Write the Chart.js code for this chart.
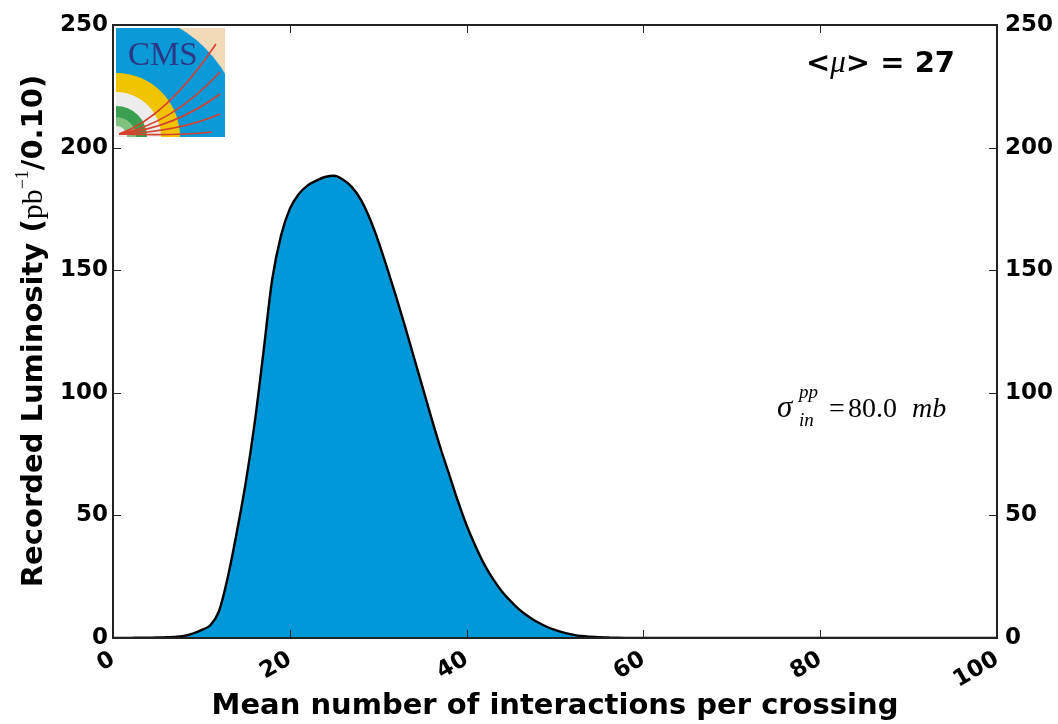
<!DOCTYPE html>
<html>
<head>
<meta charset="utf-8">
<script src="https://cdn.jsdelivr.net/npm/chart.js@4.4.0/dist/chart.umd.min.js"></script>
<style>
  html, body { margin: 0; padding: 0; background: #fff; }
</style>
</head>
<body>
<canvas id="c" width="1058" height="724"></canvas>
<script>
// pileup distribution
const mu = [0, 1, 2, 3, 4, 5, 6, 7, 8, 9, 10, 11, 12, 13, 14, 15, 16, 17, 18, 19,
  20, 21, 22, 23, 24, 25, 26, 27, 28, 29, 30, 31, 32, 33, 34, 35, 36, 37, 38, 39,
  40, 41, 42, 43, 44, 45, 46, 47, 48, 49, 50, 51, 52, 53, 54, 55, 56, 57, 58, 60,
  70, 80, 90, 100];
const lumi = [0, 0, 0.05, 0.1, 0.15, 0.2, 0.3, 0.4, 0.8, 1.8, 3.2, 5.2, 11, 25, 43, 63, 87, 116, 146, 164,
  175, 181, 184.5, 186.5, 188, 188.5, 187, 184, 179, 171.5, 162, 151, 139.5, 127.5, 115, 102.5, 90, 78, 67, 56,
  46, 37.5, 30, 24, 19, 15, 11.5, 8.8, 6.5, 4.7, 3.3, 2.2, 1.4, 0.8, 0.5, 0.3, 0.2, 0.1, 0.05, 0,
  0, 0, 0, 0];
const xTicks = [0, 20, 40, 60, 80, 100];
const yTicks = [0, 50, 100, 150, 200, 250];

const tickFont = { family: 'DejaVu Sans', weight: 'bold', size: 23 };

function drawLogo(ctx, x, y, w, h) {
  ctx.save();
  ctx.beginPath();
  ctx.rect(x, y, w, h);
  ctx.clip();
  ctx.fillStyle = '#f2d9b8';
  ctx.fillRect(x, y, w, h);
  const cx = x, cy = y + h;
  const rings = [[126, '#0a9ad8'], [64, '#f1c400'], [45, '#ececec'], [31, '#3a9f4e'], [20, '#7fc27d'], [11, '#ececec']];
  rings.forEach(([r, col]) => {
    ctx.beginPath();
    ctx.moveTo(cx, cy);
    ctx.arc(cx, cy, r, -Math.PI / 2, 0);
    ctx.closePath();
    ctx.fillStyle = col;
    ctx.fill();
  });
  ctx.fillStyle = '#2e3784';
  ctx.font = '33px "Liberation Serif"';
  ctx.textBaseline = 'alphabetic';
  ctx.fillText('CMS', x + 12, y + 37);
  ctx.strokeStyle = '#d6402c';
  ctx.lineWidth = 1.6;
  const ends = [[100, 16, 50, 90], [104, 44, 56, 96], [104, 66, 58, 100], [104, 86, 62, 104], [96, 104, 60, 108]];
  ends.forEach(([ex, ey, qx, qy]) => {
    ctx.beginPath();
    ctx.moveTo(x + 3, y + h - 3);
    ctx.quadraticCurveTo(x + qx, y + qy, x + ex, y + ey);
    ctx.stroke();
  });
  ctx.restore();
}

const decor = {
  id: 'decor',
  afterDatasetsDraw(chart) {
    const { ctx, chartArea: a, scales } = chart;
    ctx.save();
    // ticks inside the frame
    ctx.strokeStyle = '#222';
    ctx.lineWidth = 1;
    const seg = (x1, y1, x2, y2) => { ctx.beginPath(); ctx.moveTo(x1, y1); ctx.lineTo(x2, y2); ctx.stroke(); };
    xTicks.forEach(v => {
      const px = Math.round(scales.x.getPixelForValue(v)) + 0.5;
      seg(px, a.bottom, px, a.bottom - 8);
      seg(px, a.top, px, a.top + 8);
    });
    yTicks.forEach(v => {
      const py = Math.round(scales.y.getPixelForValue(v)) + 0.5;
      seg(a.left, py, a.left + 8, py);
      seg(a.right, py, a.right - 8, py);
    });
    ctx.strokeStyle = '#222';
    ctx.lineWidth = 2;
    ctx.strokeRect(a.left, a.top, a.right - a.left, a.bottom - a.top);

    drawLogo(ctx, a.left + 3, a.top + 3, 109, 109);

    // <mu> = 27
    ctx.fillStyle = '#000';
    ctx.textBaseline = 'alphabetic';
    const parts = [
      ['<', 'bold 29px "DejaVu Sans"'],
      ['\u03bc', 'italic 31px "Liberation Serif"'],
      ['> = 27', 'bold 29px "DejaVu Sans"']
    ];
    let tw = 0;
    parts.forEach(p => { ctx.font = p[1]; tw += ctx.measureText(p[0]).width; });
    let tx = 955 - tw;
    parts.forEach(p => { ctx.font = p[1]; ctx.fillText(p[0], tx, 72); tx += ctx.measureText(p[0]).width; });

    // sigma label
    ctx.font = 'italic 31px "Liberation Serif"';
    ctx.fillText('\u03c3', 777, 417);
    ctx.font = 'italic 19px "Liberation Serif"';
    ctx.fillText('pp', 799, 398);
    ctx.fillText('in', 799, 426);
    ctx.font = '28px "Liberation Serif"';
    ctx.fillText('=', 829, 417);
    ctx.fillText('80.0', 848, 417);
    ctx.font = 'italic 28px "Liberation Serif"';
    ctx.fillText('mb', 912, 417);

    // y title, mixed fonts
    ctx.translate(33, 331);
    ctx.rotate(-Math.PI / 2);
    const yt = [
      ['Recorded Luminosity (', 'bold 29px "DejaVu Sans"', 0],
      ['pb', '30px "Liberation Serif"', 0],
      ['\u22121', '18px "Liberation Serif"', -11],
      ['/0.10)', 'bold 29px "DejaVu Sans"', 0]
    ];
    let w = 0;
    yt.forEach(p => { ctx.font = p[1]; w += ctx.measureText(p[0]).width; });
    let yx = -w / 2;
    ctx.textBaseline = 'middle';
    yt.forEach(p => { ctx.font = p[1]; ctx.fillText(p[0], yx, p[2] + 1); yx += ctx.measureText(p[0]).width; });
    ctx.restore();
  }
};

new Chart(document.getElementById('c'), {
  type: 'line',
  data: {
    datasets: [{
      data: mu.map((m, i) => ({ x: m, y: lumi[i] })),
      borderColor: '#000',
      borderWidth: 2.4,
      backgroundColor: 'rgb(0,152,217)',
      fill: 'origin',
      pointRadius: 0,
      cubicInterpolationMode: 'monotone'
    }]
  },
  options: {
    responsive: false,
    animation: false,
    layout: { padding: { top: 25, left: 0, right: 0, bottom: 0 } },
    plugins: { legend: { display: false }, tooltip: { enabled: false } },
    scales: {
      x: {
        type: 'linear', min: 0, max: 100,
        afterBuildTicks: s => { s.ticks = xTicks.map(v => ({ value: v })); },
        afterFit: s => { s.height = 86; },
        grid: { display: false, drawTicks: false },
        border: { display: false },
        ticks: { font: tickFont, color: '#000', maxRotation: 30, minRotation: 30, autoSkip: false, padding: 8 },
        title: {
          display: true, text: 'Mean number of interactions per crossing',
          font: { family: 'DejaVu Sans', weight: 'bold', size: 29 }, color: '#000',
          padding: { top: 0, bottom: 0 }
        }
      },
      y: {
        position: 'left', min: 0, max: 250,
        afterBuildTicks: s => { s.ticks = yTicks.map(v => ({ value: v })); },
        afterFit: s => { s.width = 113; },
        grid: { display: false, drawTicks: false },
        border: { display: false },
        ticks: { font: tickFont, color: '#000', padding: 5 }
      },
      y2: {
        position: 'right', min: 0, max: 250,
        afterBuildTicks: s => { s.ticks = yTicks.map(v => ({ value: v })); },
        afterFit: s => { s.width = 61; },
        grid: { display: false, drawTicks: false },
        border: { display: false },
        ticks: { font: tickFont, color: '#000', padding: 8 }
      }
    }
  },
  plugins: [decor]
});
</script>
</body>
</html>
